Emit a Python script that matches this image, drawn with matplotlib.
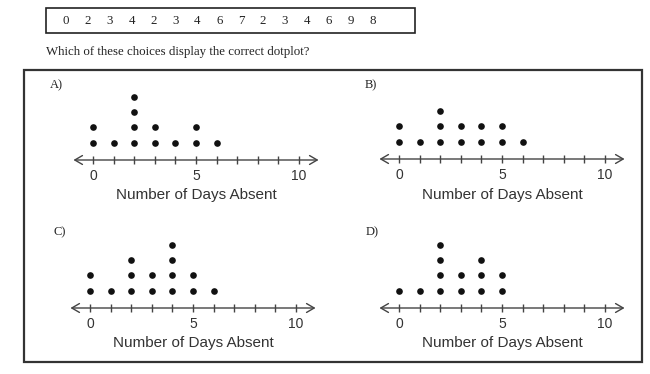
import matplotlib
matplotlib.use("Agg")
import matplotlib.pyplot as plt

# ---- data ----
raw_values = [0, 2, 3, 4, 2, 3, 4, 6, 7, 2, 3, 4, 6, 9, 8]
question = "Which of these choices display the correct dotplot?"
panel_labels = ["A)", "B)", "C)", "D)"]
day_values = [0, 1, 2, 3, 4, 5, 6]
counts_A = [2, 1, 4, 2, 1, 2, 1]
counts_B = [2, 1, 3, 2, 2, 2, 1]
counts_C = [2, 1, 3, 2, 4, 2, 1]
counts_D = [1, 1, 4, 2, 3, 2, 0]
tick_values = list(range(0, 11))
tick_label_values = [0, 5, 10]
xlabel = "Number of Days Absent"

W, H = 650, 374
fig = plt.figure(figsize=(W / 100, H / 100), dpi=100)
fig.patch.set_facecolor("white")

# overlay axes in pixel coordinates for frame & question text
bg = fig.add_axes([0, 0, 1, 1])
bg.set_xlim(0, W)
bg.set_ylim(H, 0)
bg.axis("off")

serif = ["Liberation Serif", "DejaVu Serif"]
sans = ["Liberation Sans", "DejaVu Sans"]

# top data box
bg.add_patch(plt.Rectangle((46, 8), 369, 25, fill=False, lw=1.2, ec="#222"))
for i, v in enumerate(raw_values):
    bg.text(66 + i * 21.9, 21, str(v), ha="center", va="center",
            fontsize=9.3, family=serif, color="#222")
bg.text(46, 52, question, ha="left", va="center", fontsize=9.3,
        family=serif, color="#222")

# big frame
bg.add_patch(plt.Rectangle((24, 69.5), 618, 292, fill=False, lw=1.6, ec="#333"))

UNIT = 20.6
panels = [
    # label, counts, x of value 0 (px), axis y (px), label pos
    ("A)", counts_A, 93, 160, (56, 85)),
    ("B)", counts_B, 399, 159, (371, 85)),
    ("C)", counts_C, 90, 308, (60, 232)),
    ("D)", counts_D, 399, 308, (372, 232)),
]

for lab, counts, x0, ay, (lx, ly) in panels:
    left_px = x0 - 2 * UNIT
    width_px = 14 * UNIT
    bottom_px = ay + 50
    height_px = 130
    ax = fig.add_axes([left_px / W, 1 - bottom_px / H, width_px / W, height_px / H])
    ax.set_xlim(-2, 12)
    ax.set_ylim(-50, 80)
    ax.axis("off")
    ax.patch.set_alpha(0)
    # number line
    ax.annotate("", xy=(10.95, 0), xytext=(-0.95, 0),
                arrowprops=dict(arrowstyle="<->,head_length=0.55,head_width=0.32",
                                lw=1.0, color="#444", mutation_scale=10,
                                shrinkA=0, shrinkB=0))
    ax.vlines(tick_values, -4, 4, color="#444", lw=1.0)
    for t in tick_label_values:
        ax.text(t, -16, str(t), ha="center", va="center", fontsize=10,
                family=sans, color="#333")
    ax.text(5, -35.5, xlabel, ha="center", va="center", fontsize=11,
            family=sans, color="#333")
    xs, ys = [], []
    for v, c in zip(day_values, counts):
        for k in range(c):
            xs.append(v)
            ys.append(17.5 + 15.2 * k)
    ax.plot(xs, ys, "o", color="#111", ms=4.8, mec="none")
    bg.text(lx, ly, lab, ha="center", va="center", fontsize=9,
            family=serif, color="#222")

fig.savefig("out.png", dpi=100, facecolor="white")
